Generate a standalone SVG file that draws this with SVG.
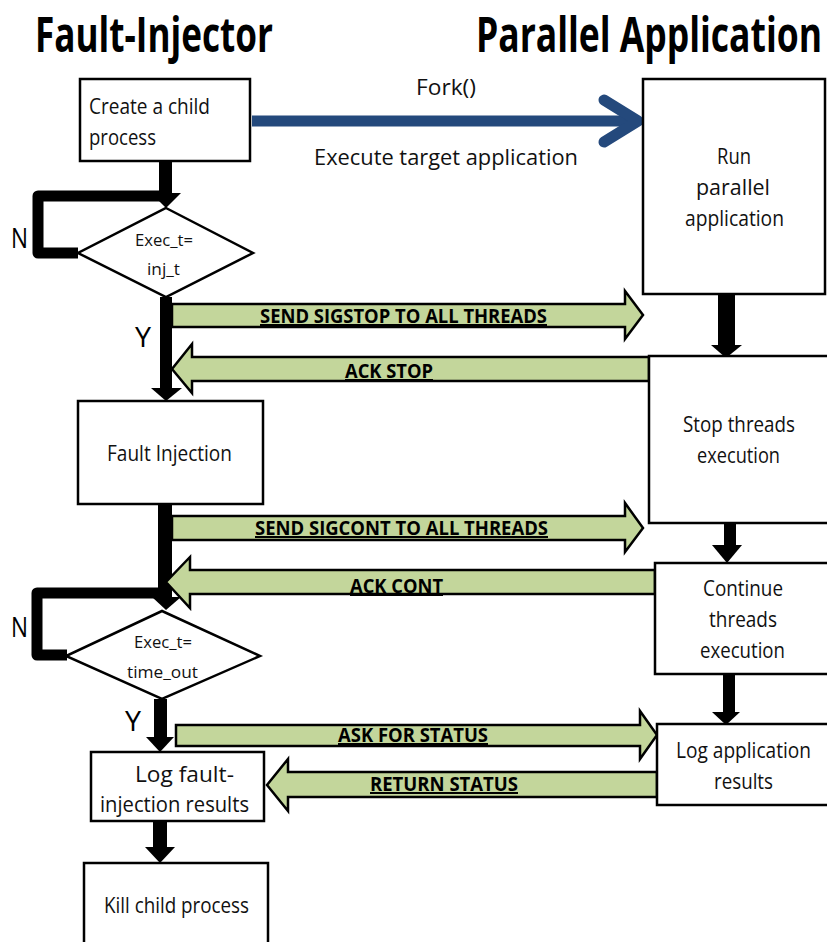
<svg xmlns="http://www.w3.org/2000/svg" width="827" height="942" viewBox="0 0 827 942">
<style>
.bg{fill:#ffffff}
.box{fill:#ffffff;stroke:#000;stroke-width:2.5}
.t{font-family:"Open Sans","Liberation Sans",sans-serif;font-size:22px;fill:#111}
.ts{font-family:"Open Sans","Liberation Sans",sans-serif;font-size:17px;fill:#111}
.title{font-family:"Open Sans","Liberation Sans",sans-serif;font-size:48px;font-weight:bold;fill:#000}
.yn{font-family:"Open Sans","Liberation Sans",sans-serif;font-size:28px;fill:#000}
.g{fill:#c3d69b;stroke:#000;stroke-width:2.5;stroke-linejoin:miter}
.gl{font-family:"Open Sans","Liberation Sans",sans-serif;font-size:20px;font-weight:bold;fill:#000;text-decoration:underline}
.blk{fill:#000}
.loop{fill:none;stroke:#000;stroke-width:11;stroke-linejoin:round}
.blue{fill:none;stroke:#24497c;stroke-width:11;stroke-linecap:round;stroke-linejoin:round}
</style>
<rect class="bg" x="0" y="0" width="827" height="942"/>
<text class="title" x="35" y="52" textLength="238" lengthAdjust="spacingAndGlyphs">Fault-Injector</text>
<text class="title" x="476" y="52" textLength="346" lengthAdjust="spacingAndGlyphs">Parallel Application</text>

<g id="connectors">
  <line class="blue" x1="252" y1="121" x2="634" y2="121" style="stroke-linecap:butt"/>
  <polyline class="blue" points="604,100 638,121 604,142"/>
  <text class="t" x="416" y="95" textLength="60" lengthAdjust="spacingAndGlyphs">Fork()</text>
  <text class="t" x="314" y="165" textLength="264" lengthAdjust="spacingAndGlyphs">Execute target application</text>

  <rect class="blk" x="159" y="160" width="13" height="34"/>
  <polygon class="blk" points="151,193 181,193 166,208"/>
  <path class="loop" d="M160,196 H38 V253 H78"/>
  <rect class="blk" x="160" y="297" width="12" height="92"/>
  <polygon class="blk" points="151,388 182,388 166,401"/>
  <rect class="blk" x="158" y="504" width="14" height="94"/>
  <polygon class="blk" points="152,597 181,597 166,610"/>
  <path class="loop" d="M160,593 H37 V655 H67"/>
  <rect class="blk" x="154" y="699" width="13" height="39"/>
  <polygon class="blk" points="146,737 174,737 160,752"/>
  <rect class="blk" x="153" y="820" width="14" height="28"/>
  <polygon class="blk" points="145,847 175,847 160,863"/>

  <rect class="blk" x="718" y="294" width="17" height="52"/>
  <polygon class="blk" points="711,345 742,345 726,358"/>
  <rect class="blk" x="724" y="508" width="12" height="38"/>
  <polygon class="blk" points="712,545 742,545 727,563"/>
  <rect class="blk" x="723" y="673" width="12" height="40"/>
  <polygon class="blk" points="712,712 740,712 726,725"/>

  <polygon class="g" points="172,304 625,304 625,291 643,315 625,339 625,327 172,327"/>
  <text class="gl" x="260" y="323" textLength="287" lengthAdjust="spacingAndGlyphs">SEND SIGSTOP TO ALL THREADS</text>
  <polygon class="g" points="649,357 192,357 192,344 172,369 192,393 192,381 649,381"/>
  <text class="gl" x="345" y="378" textLength="88" lengthAdjust="spacingAndGlyphs">ACK STOP</text>

  <polygon class="g" points="172,516 625,516 625,503 643,528 625,552 625,540 172,540"/>
  <text class="gl" x="255" y="535" textLength="293" lengthAdjust="spacingAndGlyphs">SEND SIGCONT TO ALL THREADS</text>
  <polygon class="g" points="655,570 190,570 190,557 166,582 190,608 190,594 655,594"/>
  <text class="gl" x="350" y="593" textLength="93" lengthAdjust="spacingAndGlyphs">ACK CONT</text>

  <polygon class="g" points="176,725 640,725 640,711 657,735 640,759 640,746 176,746"/>
  <text class="gl" x="338" y="742" textLength="150" lengthAdjust="spacingAndGlyphs">ASK FOR STATUS</text>
  <polygon class="g" points="657,772 288,772 288,759 267,785 288,811 288,797 657,797"/>
  <text class="gl" x="370" y="791" textLength="148" lengthAdjust="spacingAndGlyphs">RETURN STATUS</text>

  <text class="yn" x="11" y="248" textLength="17" lengthAdjust="spacingAndGlyphs">N</text>
  <text class="yn" x="135" y="347" textLength="16" lengthAdjust="spacingAndGlyphs">Y</text>
  <text class="yn" x="11" y="637" textLength="17" lengthAdjust="spacingAndGlyphs">N</text>
  <text class="yn" x="125" y="731" textLength="16" lengthAdjust="spacingAndGlyphs">Y</text>
</g>

<g id="create-child">
  <rect class="box" x="80" y="79" width="170" height="82"/>
  <text class="t" x="89" y="114" textLength="121" lengthAdjust="spacingAndGlyphs">Create a child</text>
  <text class="t" x="89" y="145" textLength="67" lengthAdjust="spacingAndGlyphs">process</text>
</g>
<g id="run-parallel">
  <rect class="box" x="643" y="79" width="182" height="215"/>
  <text class="t" x="717" y="164" textLength="34" lengthAdjust="spacingAndGlyphs">Run</text>
  <text class="t" x="696" y="195" textLength="74" lengthAdjust="spacingAndGlyphs">parallel</text>
  <text class="t" x="685" y="226" textLength="99" lengthAdjust="spacingAndGlyphs">application</text>
</g>
<g id="decision-inj">
  <polygon class="box" points="166,208 253,253 166,297 78,253"/>
  <text class="ts" x="135" y="246" textLength="58" lengthAdjust="spacingAndGlyphs">Exec_t=</text>
  <text class="ts" x="147" y="275" textLength="33" lengthAdjust="spacingAndGlyphs">inj_t</text>
</g>
<g id="fault-injection">
  <rect class="box" x="78" y="401" width="185" height="103"/>
  <text class="t" x="107" y="461" textLength="125" lengthAdjust="spacingAndGlyphs">Fault Injection</text>
</g>
<g id="stop-threads">
  <path class="box" d="M830,356 H649 V523 H830"/>
  <text class="t" x="683" y="432" textLength="112" lengthAdjust="spacingAndGlyphs">Stop threads</text>
  <text class="t" x="697" y="463" textLength="83" lengthAdjust="spacingAndGlyphs">execution</text>
</g>
<g id="continue-threads">
  <path class="box" d="M830,563 H655 V674 H830"/>
  <text class="t" x="703" y="596" textLength="80" lengthAdjust="spacingAndGlyphs">Continue</text>
  <text class="t" x="709" y="627" textLength="68" lengthAdjust="spacingAndGlyphs">threads</text>
  <text class="t" x="700" y="658" textLength="85" lengthAdjust="spacingAndGlyphs">execution</text>
</g>
<g id="decision-timeout">
  <polygon class="box" points="162,611 260,656 162,699 66,656"/>
  <text class="ts" x="134" y="648" textLength="58" lengthAdjust="spacingAndGlyphs">Exec_t=</text>
  <text class="ts" x="127" y="678" textLength="71" lengthAdjust="spacingAndGlyphs">time_out</text>
</g>
<g id="log-fault">
  <rect class="box" x="91" y="752" width="173" height="69"/>
  <text class="t" x="135" y="782" textLength="99" lengthAdjust="spacingAndGlyphs">Log fault-</text>
  <text class="t" x="100" y="812" textLength="149" lengthAdjust="spacingAndGlyphs">injection results</text>
</g>
<g id="log-app">
  <path class="box" d="M830,724 H657 V805 H830"/>
  <text class="t" x="676" y="758" textLength="135" lengthAdjust="spacingAndGlyphs">Log application</text>
  <text class="t" x="714" y="789" textLength="59" lengthAdjust="spacingAndGlyphs">results</text>
</g>
<g id="kill-child">
  <path class="box" d="M84,945 V863 H268 V945"/>
  <text class="t" x="104" y="913" textLength="145" lengthAdjust="spacingAndGlyphs">Kill child process</text>
</g>
</svg>
